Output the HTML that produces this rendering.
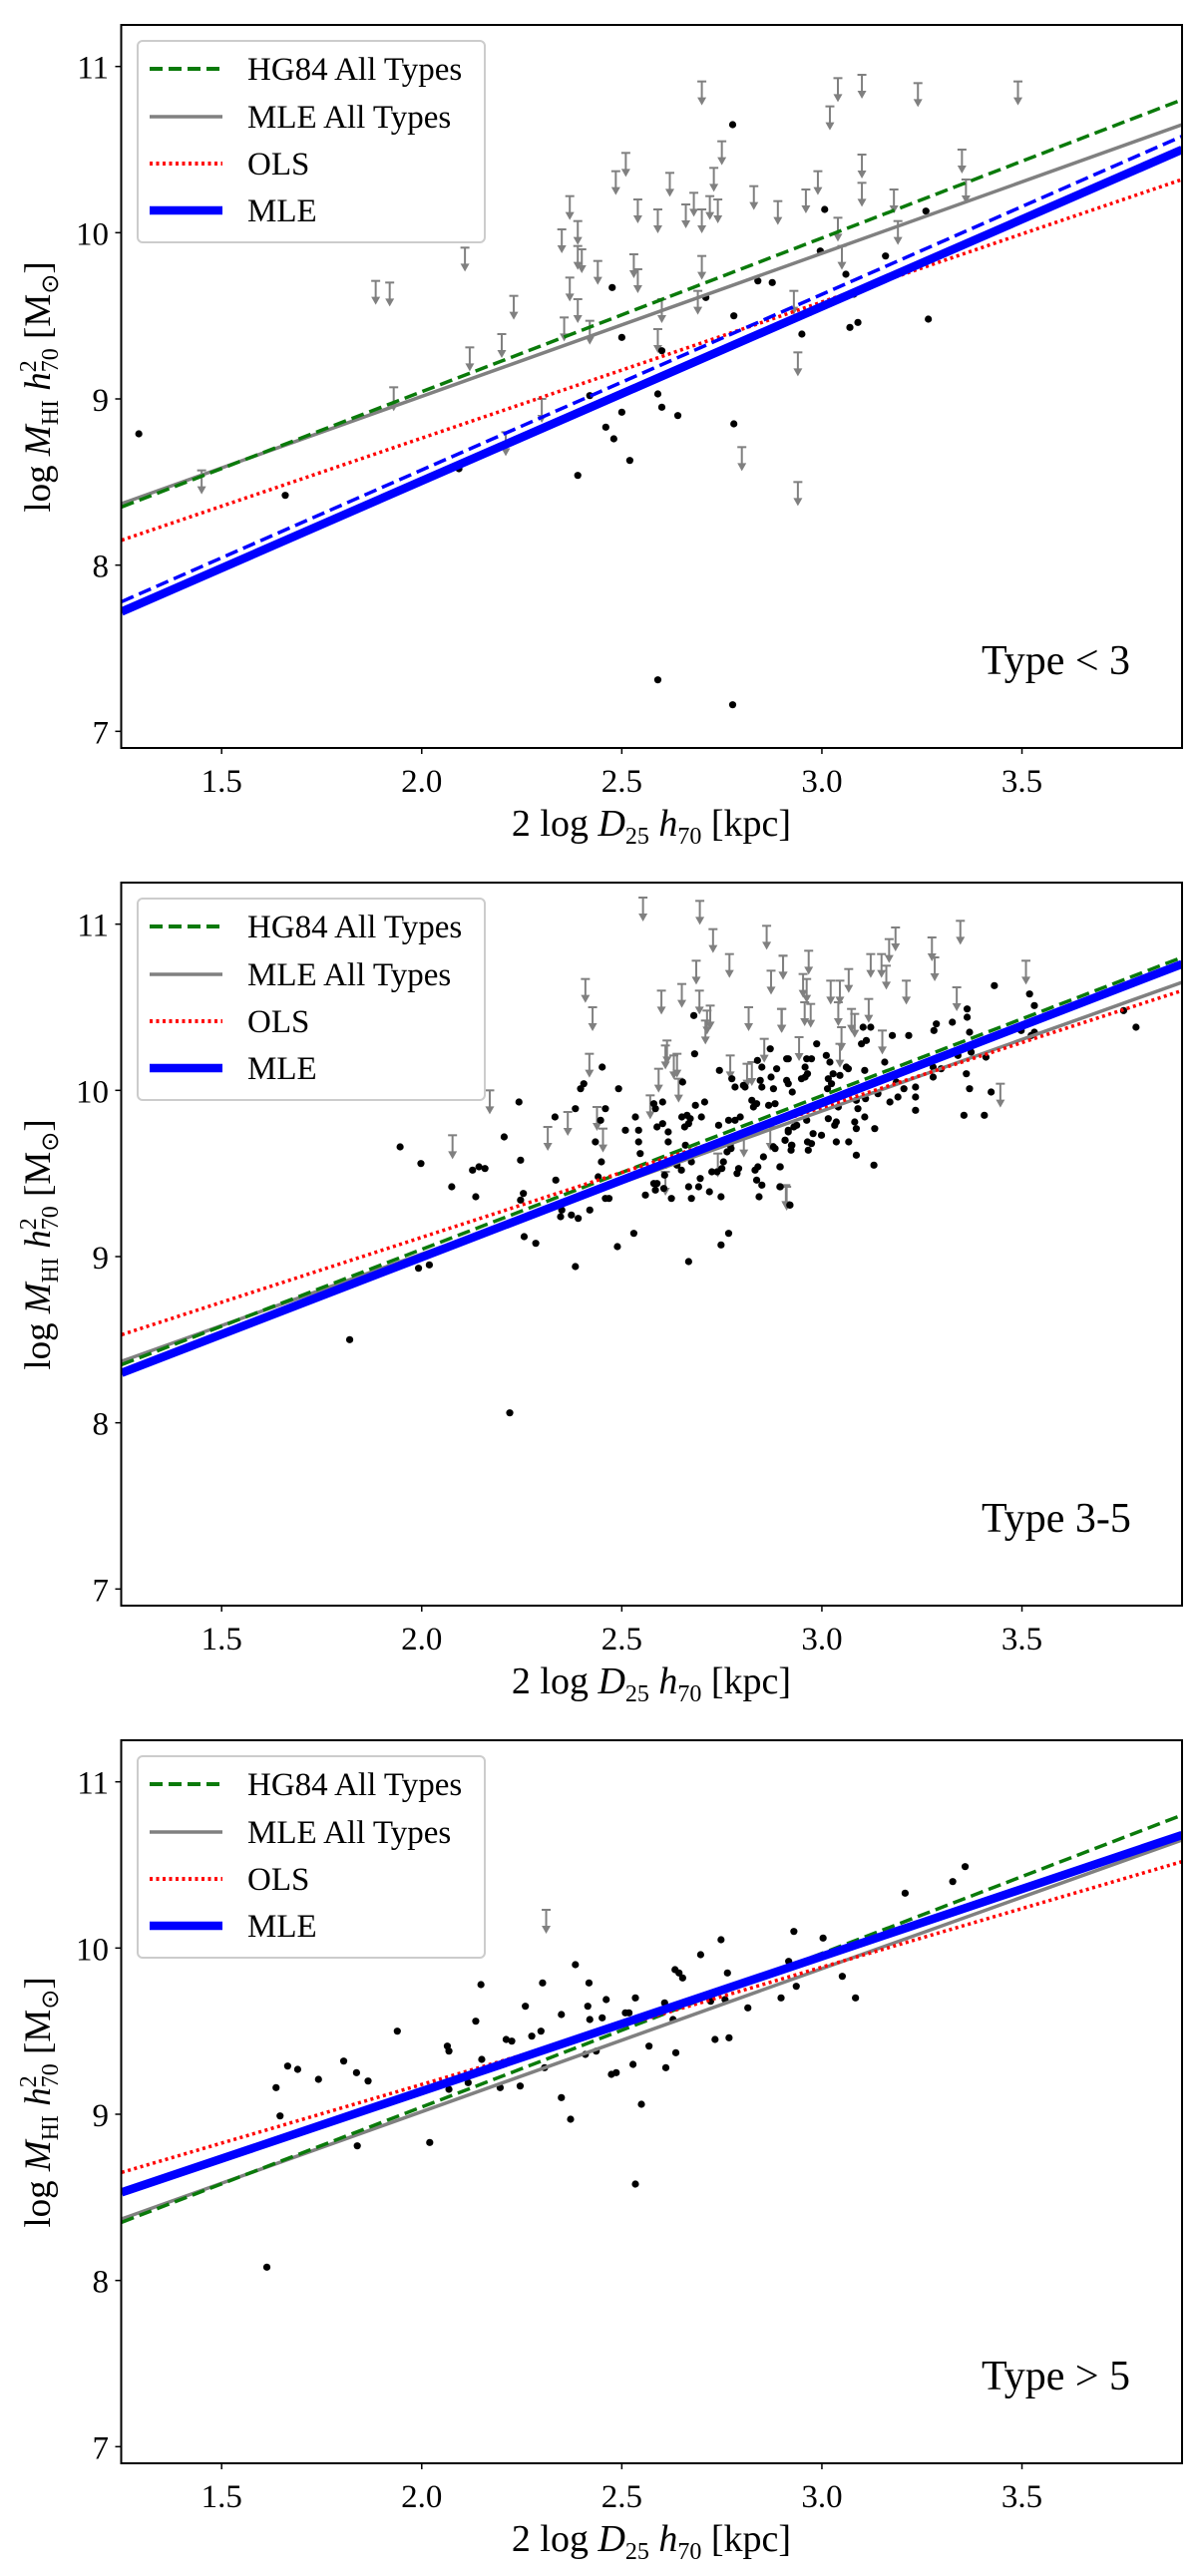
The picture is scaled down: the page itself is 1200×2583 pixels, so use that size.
<!DOCTYPE html>
<html><head><meta charset="utf-8"><style>
html,body{margin:0;padding:0;background:#fff;}
svg{display:block;font-family:"Liberation Serif",serif;}
</style></head><body>
<svg id="fig" width="1200" height="2583" viewBox="0 0 1200 2583" xmlns="http://www.w3.org/2000/svg"></svg>
<script>
// ---------- DATA ----------
const xTicks = [1.5, 2.0, 2.5, 3.0, 3.5];
const xTickLabels = ["1.5", "2.0", "2.5", "3.0", "3.5"];
const yTicks = [7, 8, 9, 10, 11];
const yTickLabels = ["7", "8", "9", "10", "11"];
const panelLabels = ["Type < 3", "Type 3-5", "Type > 5"];

// fit lines: [y at x=1.25, y at x=3.9]
const hg84Line = [8.35, 10.80];
const mleAllLine = [8.37, 10.65];
const olsLines = [[8.15, 10.32], [8.53, 10.60], [8.65, 10.52]];
const mleLines = [[7.72, 10.50], [8.30, 10.76], [8.53, 10.68]];
const mleDashedLine1 = [7.78, 10.58];

// Panel 1 (Type < 3)
const p1DetX = [1.293,1.659,2.093,2.39,2.42,2.46,2.48,2.476,2.5,2.5,2.52,2.59,2.59,2.6,2.6,2.64,2.71,2.777,2.78,2.78,2.777,2.84,2.876,2.95,2.97,2.996,3.007,3.06,3.07,3.08,3.09,3.159,3.26,3.266];
const p1DetY = [8.79,8.42,8.58,8.54,9.02,8.83,8.76,9.67,9.37,8.92,8.63,7.31,9.03,9.29,8.95,8.90,9.61,10.65,9.50,8.85,7.16,9.71,9.70,9.39,9.52,9.89,10.14,9.75,9.43,9.63,9.46,9.86,10.13,9.48];
const p1LimX = [1.45,1.885,1.92,1.93,2.108,2.12,2.2,2.21,2.23,2.3,2.35,2.356,2.37,2.37,2.39,2.39,2.4,2.39,2.42,2.44,2.485,2.51,2.53,2.54,2.54,2.59,2.59,2.62,2.6,2.66,2.68,2.69,2.70,2.7,2.7,2.72,2.73,2.75,2.74,2.8,2.83,2.89,2.93,2.94,2.94,2.96,2.99,3.02,3.04,3.04,3.05,3.1,3.1,3.1,3.18,3.19,3.24,3.35,3.36,3.49];
const p1LimY = [8.57,9.71,9.70,9.07,9.91,9.31,9.39,8.80,9.62,9.0,10.02,9.49,9.73,10.22,10.07,9.92,9.9,9.6,9.47,9.83,10.37,10.48,9.87,9.78,10.2,10.14,9.42,10.36,9.6,10.17,10.24,9.65,10.91,10.14,9.86,10.22,10.39,10.55,10.2,8.71,10.28,10.19,9.65,9.28,8.5,10.26,10.37,10.76,10.93,10.09,9.92,10.95,10.47,10.3,10.26,10.07,10.9,10.5,10.32,10.91];

// Panel 2 (Type 3-5)
const p2DetX = [1.82,1.946,1.998,2.075,2.135,2.127,2.143,2.158,2.206,2.243,2.247,2.254,2.247,2.256,2.285,1.992,2.019,2.333,2.335,2.384,2.397,2.405,2.35,2.347,2.374,2.391,2.42,2.384,2.451,2.492,2.459,2.447,2.434,2.449,2.441,2.459,2.468,2.489,2.509,2.53,2.534,2.542,2.542,2.546,2.559,2.58,2.584,2.602,2.588,2.602,2.616,2.616,2.609,2.607,2.58,2.588,2.584,2.605,2.624,2.638,2.649,2.65,2.663,2.671,2.657,2.667,2.68,2.682,2.652,2.684,2.707,2.699,2.659,2.674,2.667,2.692,2.696,2.674,2.667,2.725,2.719,2.742,2.744,2.748,2.748,2.767,2.754,2.75,2.738,2.763,2.773,2.771,2.767,2.783,2.796,2.775,2.783,2.804,2.808,2.792,2.788,2.825,2.837,2.829,2.839,2.85,2.846,2.85,2.871,2.887,2.873,2.879,2.867,2.883,2.912,2.912,2.916,2.854,2.879,2.883,2.896,2.833,2.84,2.837,2.85,2.843,2.896,2.908,2.916,2.925,2.92,2.93,3.431,3.519,3.531,3.754,3.785,3.363,3.363,3.286,3.28,3.326,3.369,3.498,3.523,3.531,3.34,3.373,3.41,3.278,3.298,3.278,3.361,3.369,3.423,3.355,3.406,3.217,3.176,3.103,3.122,3.099,3.111,2.987,3.157,3.107,3.061,3.066,3.011,3.02,2.962,2.974,2.958,2.964,2.949,2.958,2.916,3.016,3.028,3.045,3.024,2.926,3.014,3.086,3.109,3.09,3.107,3.14,3.17,3.19,3.205,3.234,3.234,3.234,3.186,3.041,3.016,3.036,3.032,3.082,3.086,3.132,2.962,2.937,2.916,2.908,2.924,2.923,2.978,2.964,2.974,2.966,2.999,3.036,3.067,3.086,3.13,2.895,2.895,2.92,2.22];
const p2DetY = [8.50,9.66,9.56,9.42,9.36,9.52,9.54,9.53,9.72,9.93,9.58,9.38,9.34,9.12,9.08,8.93,8.95,9.84,9.46,9.89,10.01,10.04,9.28,9.24,9.25,9.23,9.28,8.94,10.14,10.01,9.89,9.82,9.69,9.57,9.48,9.35,9.35,9.06,9.76,9.14,9.84,9.76,9.69,9.62,9.37,9.92,9.89,9.93,9.78,9.80,9.75,9.69,9.55,9.49,9.44,9.44,9.40,9.41,9.35,9.55,9.52,9.84,9.85,9.83,9.78,9.80,10.45,10.22,10.05,9.91,9.93,9.84,9.67,9.57,9.42,9.42,9.47,9.35,8.97,9.51,9.39,9.79,10.12,9.36,9.07,9.14,9.57,9.53,9.51,9.63,9.65,9.67,9.82,9.82,9.84,10.07,10.02,10.03,10.02,9.53,9.50,9.94,9.92,9.90,10.18,10.14,10.06,10.02,10.25,10.13,10.08,10.01,9.91,9.92,10.19,10.06,10.04,9.60,9.66,9.65,9.54,9.52,9.54,9.46,9.43,9.36,9.42,9.70,9.76,9.67,9.31,9.78,10.63,10.58,10.51,10.48,10.38,10.49,10.44,10.40,10.36,10.41,10.35,10.36,10.33,10.35,10.21,10.23,10.20,10.14,10.13,10.08,10.10,10.01,9.99,9.85,9.85,10.33,10.33,10.38,10.38,10.28,10.30,10.28,10.17,10.12,10.14,10.13,10.21,10.17,10.19,10.19,10.14,10.10,10.07,10.08,10.19,10.07,10.10,10.09,10.04,9.99,10.01,9.94,9.95,9.89,9.84,9.98,9.93,9.96,10.01,10.02,9.96,9.88,10.05,9.90,9.83,9.81,9.79,9.81,9.77,9.77,9.82,9.79,9.75,9.70,9.67,9.64,9.74,9.69,9.68,9.64,9.73,9.69,9.69,9.61,9.55,9.54,9.42,9.31,8.06];
const p2LimX = [2.553,2.695,2.728,2.862,2.769,2.903,2.686,2.873,2.409,2.65,2.599,2.694,2.721,2.713,2.427,2.817,2.9,2.709,2.613,2.609,2.638,2.63,2.856,2.419,2.771,2.813,2.825,2.592,2.642,2.17,2.571,2.438,2.365,2.315,2.453,2.077,2.805,2.871,2.74,2.609,2.91,3.346,3.184,3.275,3.168,2.967,2.903,3.122,3.149,3.282,3.51,2.953,2.962,3.067,3.161,3.022,3.045,3.211,3.337,2.899,2.957,2.972,3.041,3.117,3.074,3.082,3.049,3.045,2.943,3.151,3.446,2.912];
const p2LimY = [11.16,11.14,10.97,10.99,10.82,10.81,10.78,10.72,10.67,10.64,10.6,10.6,10.51,10.48,10.5,10.5,10.49,10.42,10.3,10.27,10.22,10.21,10.31,10.22,10.21,10.16,10.17,10.13,10.07,10.0,9.97,9.9,9.87,9.78,9.77,9.73,9.74,9.78,9.62,9.51,9.43,11.02,10.98,10.92,10.91,10.84,10.81,10.82,10.82,10.8,10.78,10.70,10.67,10.73,10.75,10.66,10.66,10.66,10.62,10.49,10.53,10.52,10.53,10.55,10.49,10.46,10.38,10.28,10.32,10.36,10.04,9.42];

// Panel 3 (Type > 5)
const p3DetX = [1.613,1.636,1.646,1.665,1.69,1.742,1.805,1.837,1.839,1.866,1.939,2.02,2.064,2.068,2.068,2.116,2.135,2.148,2.15,2.196,2.211,2.225,2.246,2.259,2.275,2.298,2.302,2.307,2.349,2.349,2.372,2.384,2.409,2.415,2.418,2.42,2.436,2.451,2.461,2.474,2.486,2.509,2.518,2.528,2.534,2.534,2.549,2.568,2.607,2.61,2.628,2.633,2.643,2.652,2.635,2.697,2.722,2.733,2.748,2.758,2.764,2.768,2.815,2.898,2.917,2.93,2.936,3.003,3.051,3.084,3.208,3.327,3.358];
const p3DetY = [8.08,9.16,8.99,9.29,9.27,9.21,9.32,9.25,8.81,9.20,9.50,8.83,9.41,9.38,9.15,9.19,9.56,9.78,9.33,9.16,9.45,9.44,9.17,9.65,9.47,9.50,9.79,9.28,9.10,9.60,8.97,9.90,9.36,9.65,9.79,9.57,9.38,9.58,9.69,9.24,9.25,9.61,9.61,9.30,9.70,8.58,9.06,9.41,9.67,9.28,9.57,9.87,9.85,9.82,9.37,9.96,9.68,9.45,10.05,9.69,9.85,9.46,9.64,9.70,9.92,10.10,9.77,10.06,9.83,9.70,10.33,10.40,10.49];
const p3LimX = [2.311];
const p3LimY = [10.23];

// ---------- DRAWING ----------
const NS = "http://www.w3.org/2000/svg";
const svg = document.getElementById("fig");
const X0 = 1.249, X1 = 3.9, Y0 = 6.9, Y1 = 11.25;
const L = 121.5, R = 1185, T = 25, B = 750;
function sx(v){ return L + (v - X0) / (X1 - X0) * (R - L); }
function sy(v, off){ return off + T + (Y1 - v) / (Y1 - Y0) * (B - T); }
function mk(tag, attrs, parent){
  const e = document.createElementNS(NS, tag);
  for (const k in attrs) e.setAttribute(k, attrs[k]);
  (parent || svg).appendChild(e);
  return e;
}

const panels = [
  {off:0, detX:p1DetX, detY:p1DetY, limX:p1LimX, limY:p1LimY, ols:olsLines[0], mle:mleLines[0], dashed:mleDashedLine1},
  {off:860, detX:p2DetX, detY:p2DetY, limX:p2LimX, limY:p2LimY, ols:olsLines[1], mle:mleLines[1], dashed:null},
  {off:1720, detX:p3DetX, detY:p3DetY, limX:p3LimX, limY:p3LimY, ols:olsLines[2], mle:mleLines[2], dashed:null}
];

panels.forEach((p, pi) => {
  const g = mk("g", {});
  
  
  const off = p.off;
  const clipId = "clip" + pi;
  const cp = mk("clipPath", {id: clipId}, g);
  mk("rect", {x: L, y: off + T, width: R - L, height: B - T}, cp);
  const plot = mk("g", {"clip-path": "url(#" + clipId + ")"}, g);

  p.limX.forEach((xv, i) => {
    const x = sx(xv), y = sy(p.limY[i], off);
    const a = mk("g", {stroke: "#808080", fill: "#808080", "stroke-width": 2}, plot);
    
    
    mk("line", {x1: x, y1: y, x2: x, y2: y + 18}, a);
    mk("line", {x1: x - 4.5, y1: y, x2: x + 4.5, y2: y}, a);
    mk("polygon", {points: (x-4.5)+","+(y+16)+" "+(x+4.5)+","+(y+16)+" "+x+","+(y+24), stroke: "none"}, a);
  });
  p.detX.forEach((xv, i) => {
    const c = mk("circle", {cx: sx(xv), cy: sy(p.detY[i], off), r: 3.6, fill: "#000"}, plot);
    
    
  });
  function fit(vals, attrs, name){
    const l = mk("line", Object.assign({x1: sx(1.25), y1: sy(vals[0], off), x2: sx(3.9), y2: sy(vals[1], off), fill: "none"}, attrs), plot);
    
    
  }
  fit(mleAllLine, {stroke: "#808080", "stroke-width": 3.5}, 'mle-all-types-line');
  fit(hg84Line, {stroke: "#0a7a0a", "stroke-width": 3.5, "stroke-dasharray": "13,6"}, 'hg84-line');
  fit(p.ols, {stroke: "#ff0000", "stroke-width": 3.5, "stroke-dasharray": "3,3.5"}, 'ols-line');
  fit(p.mle, {stroke: "#0000ff", "stroke-width": 8.5}, 'mle-line');
  if (p.dashed) fit(p.dashed, {stroke: "#0000ff", "stroke-width": 3.5, "stroke-dasharray": "13,6"}, 'mle-dashed-line');

  const fr = mk("rect", {x: L, y: off + T, width: R - L, height: B - T, fill: "none", stroke: "#000", "stroke-width": 2}, g);
  
  

  xTicks.forEach((t, i) => {
    const x = sx(t);
    mk("line", {x1: x, y1: off + B, x2: x, y2: off + B + 6, stroke: "#000", "stroke-width": 1.5}, g);
    const tx = mk("text", {x: x, y: off + 794, "font-size": 33, "text-anchor": "middle", fill: "#000"}, g);
    tx.textContent = xTickLabels[i];
    
    
  });
  yTicks.forEach((t, i) => {
    const y = sy(t, off);
    mk("line", {x1: L - 6, y1: y, x2: L, y2: y, stroke: "#000", "stroke-width": 1.5}, g);
    const tx = mk("text", {x: 109, y: y + 12, "font-size": 33, "text-anchor": "end", fill: "#000"}, g);
    tx.textContent = yTickLabels[i];
    
    
  });

  const xt = mk("text", {x: 653, y: off + 838, "font-size": 38, "text-anchor": "middle", fill: "#000"}, g);
  xt.innerHTML = '2 log <tspan font-style="italic">D</tspan><tspan font-size="24" dy="8">25</tspan><tspan dy="-8"> </tspan><tspan font-style="italic">h</tspan><tspan font-size="24" dy="8">70</tspan><tspan dy="-8"> [kpc]</tspan>';
  
  

  const yt = mk("text", {x: 0, y: 0, "font-size": 37, "text-anchor": "middle", fill: "#000", transform: "translate(50," + (off + 388) + ") rotate(-90)"}, g);
  yt.innerHTML = 'log <tspan font-style="italic">M</tspan><tspan font-size="24" dy="8">HI</tspan><tspan dy="-8"> </tspan><tspan font-style="italic">h</tspan><tspan font-size="24" dy="-14">2</tspan><tspan font-size="24" dx="-12" dy="22">70</tspan><tspan dy="-8"> [M</tspan><tspan font-size="24" dy="8">⊙</tspan><tspan dy="-8">]</tspan>';
  
  

  const pl = mk("text", {x: 984, y: off + 676, "font-size": 42, fill: "#000"}, g);
  pl.textContent = panelLabels[pi];
  
  

  const lg = mk("g", {}, g);
  
  
  mk("rect", {x: 138, y: off + 41, width: 348, height: 202, rx: 5, fill: "#fff", "fill-opacity": 0.85, stroke: "#cccccc", "stroke-width": 2}, lg);
  const entries = [
    {label: "HG84 All Types", a: {stroke: "#0a7a0a", "stroke-width": 4, "stroke-dasharray": "13,6"}, n: 'legend-entry-hg84'},
    {label: "MLE All Types", a: {stroke: "#808080", "stroke-width": 3.5}, n: 'legend-entry-mle-all'},
    {label: "OLS", a: {stroke: "#ff0000", "stroke-width": 4, "stroke-dasharray": "3,3.5"}, n: 'legend-entry-ols'},
    {label: "MLE", a: {stroke: "#0000ff", "stroke-width": 8.5}, n: 'legend-entry-mle'}
  ];
  const ey = [69, 117, 164, 211];
  entries.forEach((e, i) => {
    const eg = mk("g", {}, lg);
    
    
    mk("line", Object.assign({x1: 150, y1: off + ey[i], x2: 223, y2: off + ey[i]}, e.a), eg);
    const t = mk("text", {x: 248, y: off + ey[i] + 11, "font-size": 33, fill: "#000"}, eg);
    t.textContent = e.label;
  });
});
</script>
</body></html>
